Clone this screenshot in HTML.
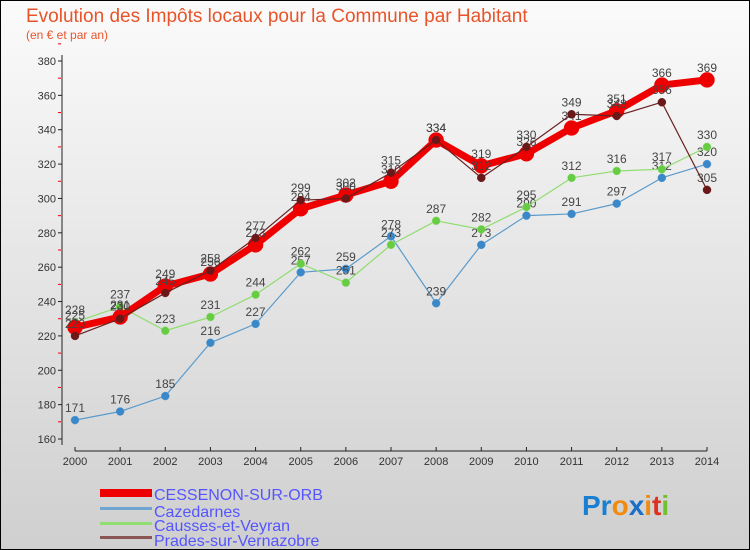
<!DOCTYPE html>
<html><head><meta charset="utf-8"><style>
body{margin:0}
svg{display:block;font-family:"Liberation Sans",sans-serif}
</style></head><body>
<svg id="c" width="750" height="550" viewBox="0 0 750 550">
<defs><linearGradient id="bg" x1="0" y1="0" x2="0" y2="1"><stop offset="0" stop-color="#fbfbfb"/><stop offset="1" stop-color="#cfcfcf"/></linearGradient></defs>
<rect x="0.5" y="0.5" width="749" height="549" fill="url(#bg)" stroke="#000"/>
<text x="26" y="22" font-size="19" fill="#e8542a">Evolution des Impôts locaux pour la Commune par Habitant</text>
<text x="26" y="39" font-size="12" fill="#e8542a">(en € et par an)</text>
<g id="axes"></g><g id="series"></g>
<g font-size="16" fill="#5555ff">
<rect x="100" y="489" width="52" height="8" fill="#ee0000"/>
<text x="154" y="500">CESSENON-SUR-ORB</text>
<rect x="100" y="507" width="52" height="3" fill="#6fa5d0"/>
<text x="154" y="517">Cazedarnes</text>
<rect x="100" y="522" width="52" height="3" fill="#90dd70"/>
<text x="154" y="531">Causses-et-Veyran</text>
<rect x="100" y="536" width="52" height="3" fill="#8a5555"/>
<text x="154" y="546">Prades-sur-Vernazobre</text>
</g>
<g font-size="28" font-weight="bold"><text x="582" y="515"><tspan fill="#1a7fd0">Pr</tspan><tspan fill="#f08a10">o</tspan><tspan fill="#1a6fc8">x</tspan><tspan fill="#f08a10">i</tspan><tspan fill="#e03020">t</tspan><tspan fill="#70c030">i</tspan></text></g>
</svg>
<script>
const years=[2000,2001,2002,2003,2004,2005,2006,2007,2008,2009,2010,2011,2012,2013,2014];
const yTicks=[160,180,200,220,240,260,280,300,320,340,360,380];
const cessenon=[225,231,249,256,273,294,302,310,334,319,326,341,351,366,369];
const cazedarnes=[171,176,185,216,227,257,259,278,239,273,290,291,297,312,320];
const causses=[228,237,223,231,244,262,251,273,287,282,295,312,316,317,330];
const prades=[220,230,245,258,277,299,300,315,334,312,330,349,348,356,305];
const NS="http://www.w3.org/2000/svg";
const xS=i=>75+i*(707-75)/(years.length-1);
const yS=v=>439-(v-160)*(439-61)/220;
function mk(t,a,p){const e=document.createElementNS(NS,t);for(const k in a)e.setAttribute(k,a[k]);p.appendChild(e);return e;}
const ax=document.getElementById('axes');
mk('line',{x1:62,y1:55,x2:62,y2:445,stroke:'#222'},ax);
mk('line',{x1:75,y1:451,x2:707,y2:451,stroke:'#222'},ax);
yTicks.forEach(v=>{
 mk('line',{x1:58,y1:yS(v),x2:62,y2:yS(v),stroke:'#222'},ax);
 mk('line',{x1:58,y1:yS(v+10),x2:61,y2:yS(v+10),stroke:'#e00'},ax);
 const t=mk('text',{x:56,y:yS(v)+4,'font-size':11,fill:'#333','text-anchor':'end'},ax);t.textContent=v;
 
 
});
years.forEach((y,i)=>{
 mk('line',{x1:xS(i),y1:447,x2:xS(i),y2:451,stroke:'#222'},ax);
 const t=mk('text',{x:xS(i),y:465,'font-size':11,fill:'#333','text-anchor':'middle'},ax);t.textContent=y;
 
 
});
const sg=document.getElementById('series');
function draw(d,color,w,r,name,dot){
 const g=mk('g',{},sg);
 
 
 const p=mk('polyline',{points:d.map((v,i)=>xS(i)+','+yS(v)).join(' '),fill:'none',stroke:color,'stroke-width':w,'stroke-linejoin':'round'},g);
 
 
 d.forEach((v,i)=>{
  const c=mk('circle',{cx:xS(i),cy:yS(v),r:r,fill:dot,stroke:color,'stroke-width':0.5},g);
  
  
  const t=mk('text',{x:xS(i),y:yS(v)-8,'font-size':12,fill:'#444','text-anchor':'middle'},g);t.textContent=v;
  
  
 });
}
draw(cazedarnes,'#5a9bcc',1.2,4,'series-cazedarnes','#3a88c8');
draw(causses,'#90dd70',1.2,4,'series-causses','#66cc44');
draw(cessenon,'#ee0000',7,7.5,'series-cessenon','#ee0000');
draw(prades,'#6a2020',1.2,4,'series-prades','#6a1818');
</script>
</body></html>
